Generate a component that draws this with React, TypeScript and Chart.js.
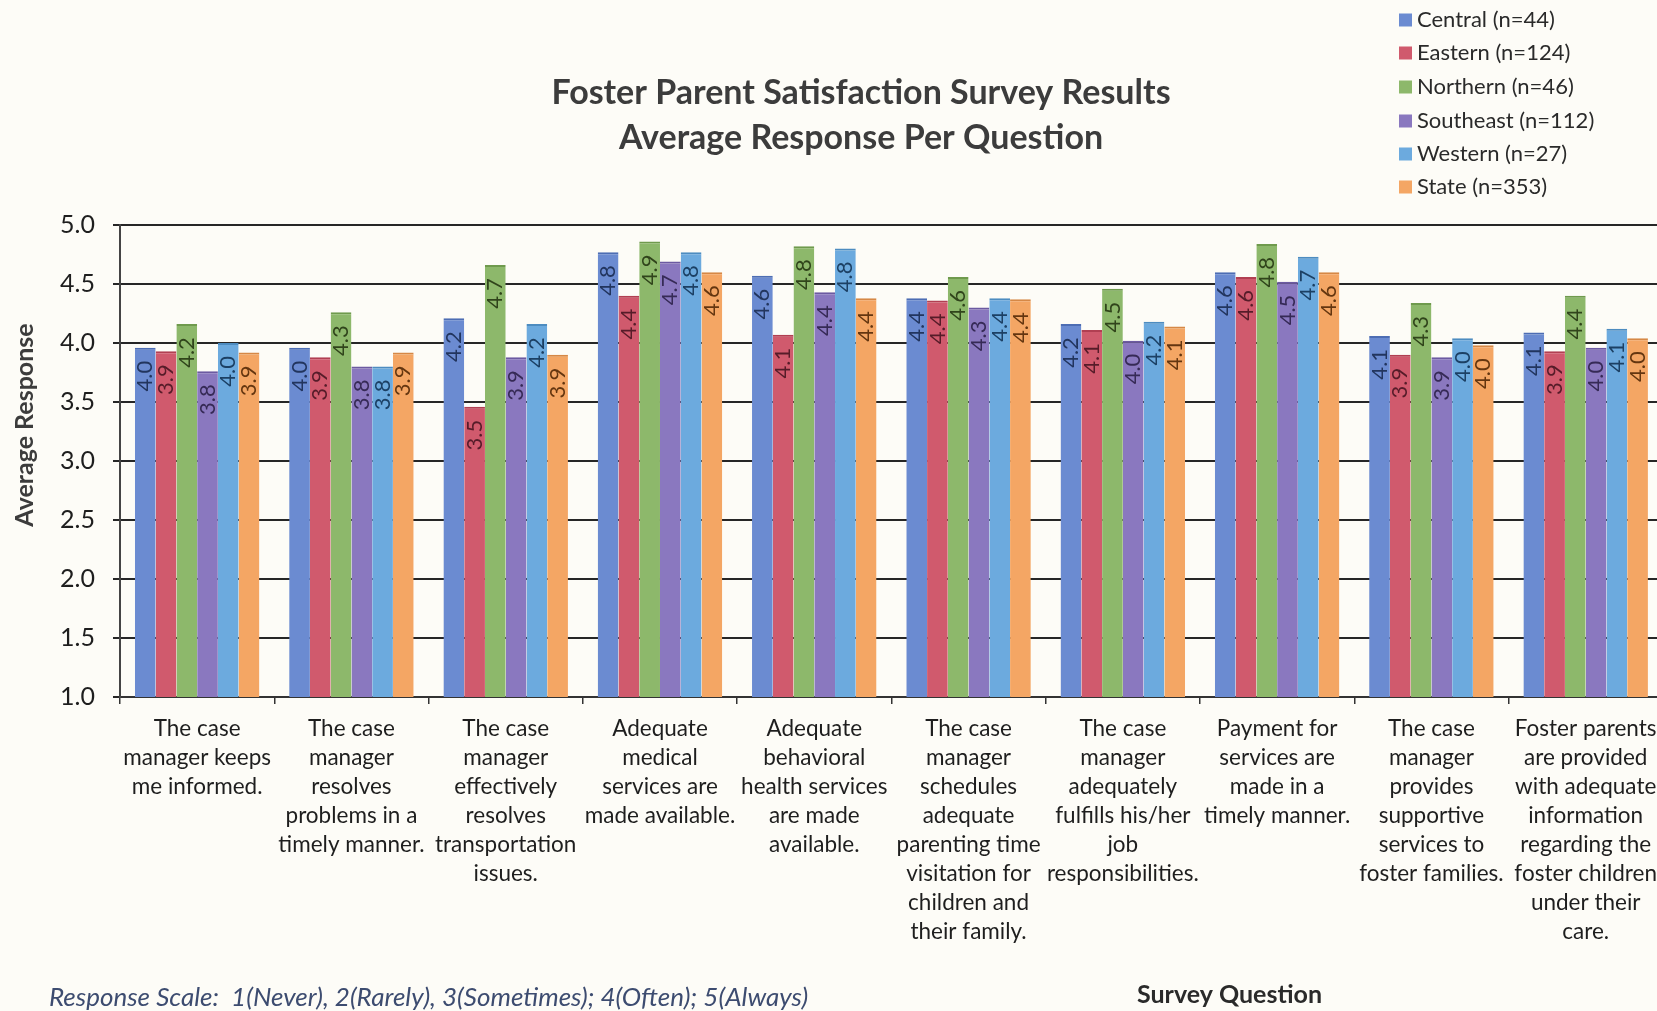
import React, { useEffect, useRef } from "react";
import { Chart, registerables } from "chart.js";

Chart.register(...registerables);

const categories: string[][] = [
  ["The case", "manager keeps", "me informed."],
  ["The case", "manager", "resolves", "problems in a", "timely manner."],
  ["The case", "manager", "effectively", "resolves", "transportation", "issues."],
  ["Adequate", "medical", "services are", "made available."],
  ["Adequate", "behavioral", "health services", "are made", "available."],
  ["The case", "manager", "schedules", "adequate", "parenting time", "visitation for", "children and", "their family."],
  ["The case", "manager", "adequately", "fulfills his/her", "job", "responsibilities."],
  ["Payment for", "services are", "made in a", "timely manner."],
  ["The case", "manager", "provides", "supportive", "services to", "foster families."],
  ["Foster parents", "are provided", "with adequate", "information", "regarding the", "foster children", "under their", "care."],
];

const seriesNames = [
  "Central (n=44)",
  "Eastern (n=124)",
  "Northern (n=46)",
  "Southeast (n=112)",
  "Western (n=27)",
  "State (n=353)",
];

const central = [3.96, 3.96, 4.21, 4.77, 4.57, 4.38, 4.16, 4.6, 4.06, 4.09];
const eastern = [3.93, 3.88, 3.46, 4.4, 4.07, 4.36, 4.11, 4.56, 3.9, 3.93];
const northern = [4.16, 4.26, 4.66, 4.86, 4.82, 4.56, 4.46, 4.84, 4.34, 4.4];
const southeast = [3.76, 3.8, 3.88, 4.69, 4.43, 4.3, 4.02, 4.52, 3.88, 3.96];
const western = [4.0, 3.8, 4.16, 4.77, 4.8, 4.38, 4.18, 4.73, 4.04, 4.12];
const state = [3.92, 3.92, 3.9, 4.6, 4.38, 4.37, 4.14, 4.6, 3.98, 4.04];

const seriesValues = [central, eastern, northern, southeast, western, state];

const barColors = ["#6b8bd1", "#d05a6d", "#8db86b", "#8a78bf", "#6caade", "#f4a664"];
const edgeColors = ["#4d6db3", "#b13f52", "#6f9a4d", "#6c5aa1", "#4d8cc0", "#d68846"];
const labelColors = ["#22355e", "#561c29", "#30441b", "#362a56", "#1c4064", "#643610"];

const yMin = 1;
const yMax = 5;
const yStep = 0.5;

const titleLines = ["Foster Parent Satisfaction Survey Results", "Average Response Per Question"];
const yAxisTitle = "Average Response";
const xAxisTitle = "Survey Question";
const footnote = "Response Scale:  1(Never), 2(Rarely), 3(Sometimes); 4(Often); 5(Always)";

const FONT = "Lato, 'Open Sans', sans-serif";

const W = 1657;
const H = 1011;
const CW = 1667;

const decorPlugin = {
  id: "decor",
  afterDatasetsDraw(chart: any) {
    const ctx = chart.ctx as CanvasRenderingContext2D;
    chart.data.datasets.forEach((ds: any, i: number) => {
      const meta = chart.getDatasetMeta(i);
      meta.data.forEach((bar: any, j: number) => {
        const v = ds.data[j] as number;
        ctx.save();
        ctx.translate(bar.x, bar.y + 13);
        ctx.rotate(-Math.PI / 2);
        ctx.font = `22px ${FONT}`;
        ctx.fillStyle = labelColors[i];
        ctx.textAlign = "right";
        ctx.textBaseline = "middle";
        ctx.fillText(v.toFixed(1), 0, 0);
        ctx.restore();
      });
    });
  },
  afterDraw(chart: any) {
    const ctx = chart.ctx as CanvasRenderingContext2D;
    ctx.save();
    // title
    ctx.fillStyle = "#3c3c3c";
    ctx.font = `bold 34px ${FONT}`;
    ctx.textAlign = "center";
    ctx.textBaseline = "alphabetic";
    ctx.fillText(titleLines[0], 861, 104);
    ctx.fillText(titleLines[1], 861, 149);

    // legend
    const rowY = [20, 53, 87, 121, 154, 187];
    chart.data.datasets.forEach((ds: any, i: number) => {
      const y = rowY[i];
      ctx.fillStyle = ds.backgroundColor;
      ctx.fillRect(1399, y - 6.5, 13, 13);
      ctx.fillStyle = "#2a2a2a";
      ctx.font = `22px ${FONT}`;
      ctx.textAlign = "left";
      ctx.textBaseline = "middle";
      ctx.fillText(ds.label, 1417, y);
    });

    // y axis title
    ctx.save();
    ctx.translate(33, 425);
    ctx.rotate(-Math.PI / 2);
    ctx.fillStyle = "#3c3c3c";
    ctx.font = `bold 25px ${FONT}`;
    ctx.textAlign = "center";
    ctx.textBaseline = "alphabetic";
    ctx.fillText(yAxisTitle, 0, 0);
    ctx.restore();

    // x axis title
    ctx.fillStyle = "#2a2a2a";
    ctx.font = `bold 25px ${FONT}`;
    ctx.textAlign = "left";
    ctx.textBaseline = "middle";
    ctx.fillText(xAxisTitle, 1137, 995);

    // footnote
    ctx.fillStyle = "#3d4c70";
    ctx.font = `italic 26px ${FONT}`;
    ctx.fillText(footnote, 49, 998);
    ctx.restore();
  },
};

export default function App() {
  const ref = useRef<HTMLCanvasElement | null>(null);

  useEffect(() => {
    if (!ref.current) return;
    const chart = new Chart(ref.current, {
      type: "bar",
      data: {
        labels: categories,
        datasets: seriesValues.map((vals, i) => ({
          label: seriesNames[i],
          data: vals,
          backgroundColor: barColors[i],
          borderColor: edgeColors[i],
          borderWidth: { top: 2, left: 0, right: 0, bottom: 0 },
          borderSkipped: "bottom",
          categoryPercentage: 0.807,
          barPercentage: 1.0,
        })),
      },
      options: {
        animation: false,
        responsive: false,
        maintainAspectRatio: false,
        layout: { padding: { top: 225, left: 0, right: 0, bottom: 0 } },
        plugins: {
          legend: { display: false },
          title: { display: false },
          tooltip: { enabled: false },
        },
        scales: {
          x: {
            offset: true,
            afterFit: (s: any) => {
              s.height = 314;
            },
            border: { display: true, color: "#333333", width: 2 },
            grid: {
              offset: true,
              drawOnChartArea: false,
              drawTicks: true,
              tickLength: 7,
              color: "#333333",
              lineWidth: 1.5,
            },
            ticks: {
              autoSkip: false,
              maxRotation: 0,
              minRotation: 0,
              padding: 10,
              color: "#1e1e1e",
              font: { family: FONT, size: 22.5, lineHeight: 1.29 },
            },
          },
          y: {
            min: yMin,
            max: yMax,
            afterFit: (s: any) => {
              s.width = 120;
            },
            border: { display: true, color: "#444444", width: 2 },
            grid: {
              color: "#262626",
              lineWidth: 2,
              drawTicks: true,
              tickLength: 7,
            },
            ticks: {
              stepSize: yStep,
              padding: 18,
              color: "#1e1e1e",
              font: { family: FONT, size: 25 },
              callback: (v: any) => Number(v).toFixed(1),
            },
          },
        },
      },
      plugins: [decorPlugin],
    });
    return () => chart.destroy();
  }, []);

  return (
    <div
      style={{
        position: "fixed",
        left: 0,
        top: 0,
        width: W,
        height: H,
        overflow: "hidden",
        background: "#fdfcf7",
      }}
    >
      <canvas ref={ref} width={CW} height={H} style={{ width: CW, height: H, display: "block" }} />
    </div>
  );
}
